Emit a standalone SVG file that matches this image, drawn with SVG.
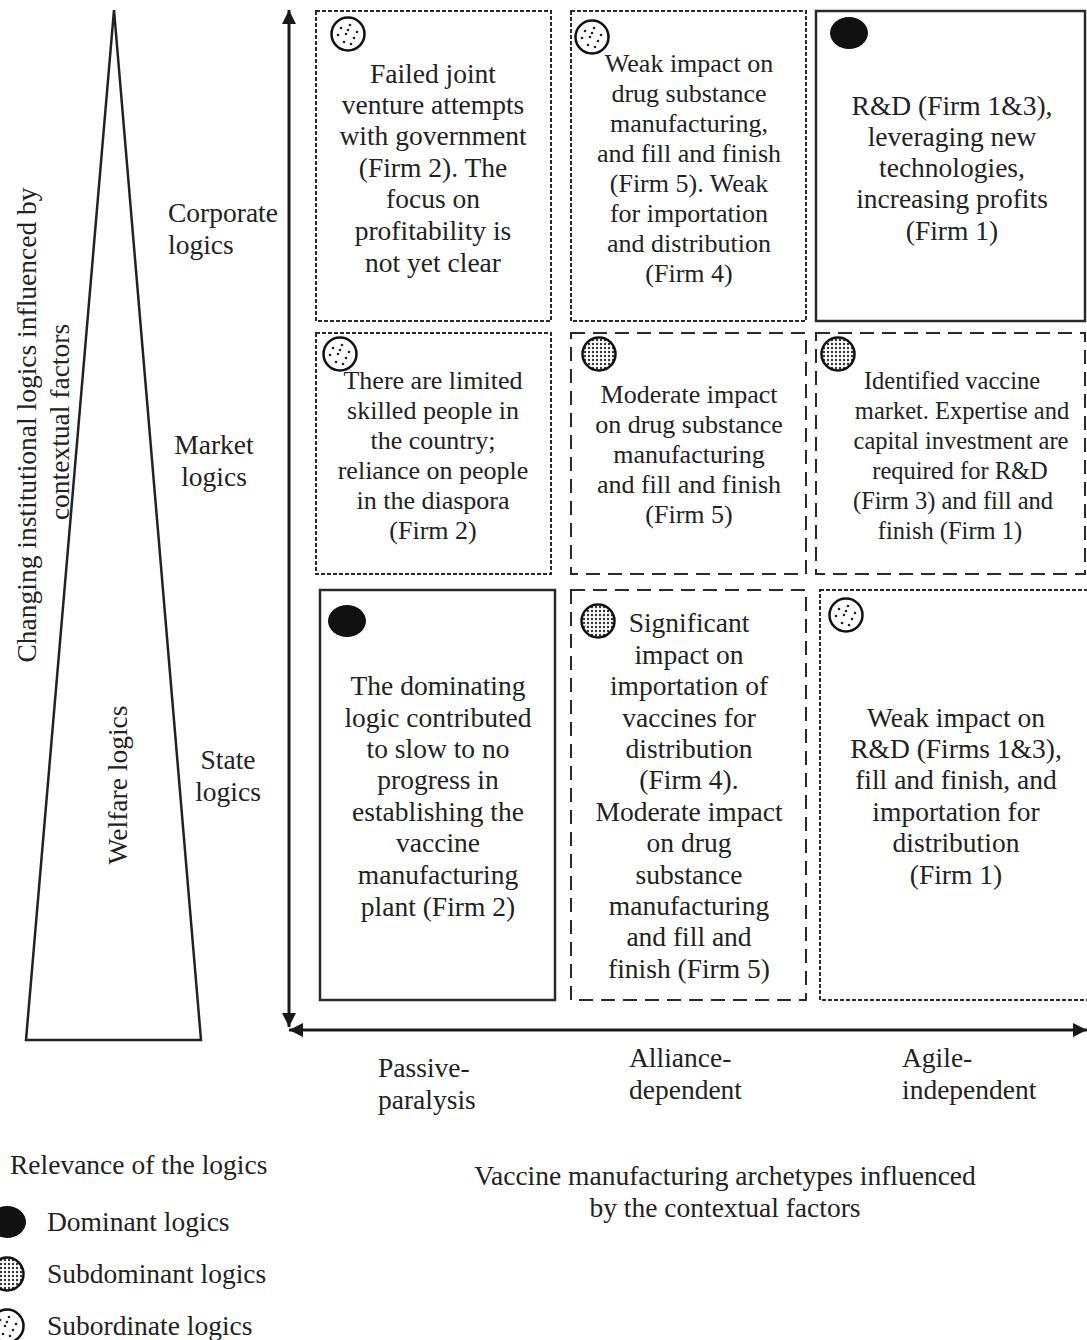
<svg xmlns="http://www.w3.org/2000/svg" xmlns:xlink="http://www.w3.org/1999/xlink" width="1087" height="1340" viewBox="0 0 1087 1340">
  <style>
    text { font-family: "Liberation Serif", "Times New Roman", serif; font-size: 27.5px; fill: #222; }
    .c { text-anchor: middle; }
    .s26 text { font-size: 26px; }
    .s25 text { font-size: 24.5px; }
    .box { fill: #fff; stroke: #2a2a2a; stroke-width: 2; }
    .solid { stroke-width: 2.5; }
    .fine { stroke-dasharray: 4 2; }
    .long { stroke-dasharray: 14 8; }
    .axis { stroke: #1a1a1a; stroke-width: 3; fill: none; }
    .tri { fill: #fff; stroke: #222; stroke-width: 2.5; }
  </style>
  <defs>
    <marker id="head" viewBox="0 0 10 10" refX="10" refY="5" markerUnits="userSpaceOnUse" markerWidth="16" markerHeight="14" orient="auto-start-reverse">
      <path d="M0,0 L10,5 L0,10 z" fill="#1a1a1a"/>
    </marker>
    <pattern id="dense" patternUnits="userSpaceOnUse" width="4" height="4">
      <rect width="4" height="4" fill="#fff"/>
      <circle cx="2" cy="2" r="1.2" fill="#333"/>
    </pattern>
    <!-- relevance symbols -->
    <g id="dominant">
      <ellipse cx="0" cy="0" rx="19" ry="16" fill="#111"/>
    </g>
    <g id="subdominant">
      <circle cx="0" cy="0" r="16.5" fill="url(#dense)" stroke="#111" stroke-width="2.5"/>
    </g>
    <g id="subordinate">
      <circle cx="0" cy="0" r="16.5" fill="#fff" stroke="#111" stroke-width="2.5"/>
      <g fill="#222">
        <circle cx="-7" cy="-6" r="1.3"/>
        <circle cx="2" cy="-9" r="1.3"/>
        <circle cx="9" cy="-2" r="1.3"/>
        <circle cx="-10" cy="1" r="1.3"/>
        <circle cx="-2" cy="0" r="1.3"/>
        <circle cx="6" cy="4" r="1.3"/>
        <circle cx="-4" cy="8" r="1.3"/>
        <circle cx="3" cy="10" r="1.3"/>
        <circle cx="0" cy="-4" r="1.3"/>
      </g>
    </g>
  </defs>

  <rect width="1087" height="1340" fill="#fff"/>

  <!-- left scale: wedge of welfare vs corporate logics -->
  <g id="wedge">
    <polygon class="tri" points="114,10 26,1040 201,1040"/>
    <text class="c" transform="translate(118,785) rotate(-90)" dy="9">Welfare logics</text>
  </g>

  <g id="y-title">
    <text class="c" transform="translate(27,425) rotate(-90)" dy="9">Changing institutional logics influenced by</text>
    <text class="c" transform="translate(60,422) rotate(-90)" dy="9">contextual factors</text>
  </g>

  <g id="row-labels">
    <text x="168" y="222">Corporate</text>
    <text x="168" y="254">logics</text>
    <text class="c" x="214" y="454">Market</text>
    <text class="c" x="214" y="486">logics</text>
    <text class="c" x="228" y="769">State</text>
    <text class="c" x="228" y="801">logics</text>
  </g>

  <!-- axes -->
  <g id="connectors">
    <line class="axis" x1="289" y1="10" x2="289" y2="1027" marker-start="url(#head)" marker-end="url(#head)"/>
    <line class="axis" x1="289" y1="1030" x2="1087" y2="1030" marker-start="url(#head)" marker-end="url(#head)"/>
  </g>

  <!-- row 1: corporate logics -->
  <g id="cell-passive-corporate">
    <rect class="box fine" x="316" y="11" width="235" height="310"/>
    <use href="#subordinate" x="348" y="34"/>
    <text class="c" x="433" y="83">Failed joint</text>
    <text class="c" x="433" y="114">venture attempts</text>
    <text class="c" x="433" y="145">with government</text>
    <text class="c" x="433" y="177">(Firm 2). The</text>
    <text class="c" x="433" y="208">focus on</text>
    <text class="c" x="433" y="240">profitability is</text>
    <text class="c" x="433" y="272">not yet clear</text>
  </g>

  <g id="cell-alliance-corporate" class="s26">
    <rect class="box fine" x="571" y="11" width="235" height="310"/>
    <use href="#subordinate" x="592" y="37"/>
    <text class="c" x="689" y="72">Weak impact on</text>
    <text class="c" x="689" y="102">drug substance</text>
    <text class="c" x="689" y="132">manufacturing,</text>
    <text class="c" x="689" y="162">and fill and finish</text>
    <text class="c" x="689" y="192">(Firm 5). Weak</text>
    <text class="c" x="689" y="222">for importation</text>
    <text class="c" x="689" y="252">and distribution</text>
    <text class="c" x="689" y="282">(Firm 4)</text>
  </g>

  <g id="cell-agile-corporate">
    <rect class="box solid" x="816" y="11" width="269" height="310"/>
    <use href="#dominant" x="849" y="33"/>
    <text class="c" x="952" y="115">R&amp;D (Firm 1&amp;3),</text>
    <text class="c" x="952" y="146">leveraging new</text>
    <text class="c" x="952" y="177">technologies,</text>
    <text class="c" x="952" y="208">increasing profits</text>
    <text class="c" x="952" y="240">(Firm 1)</text>
  </g>

  <!-- row 2: market logics -->
  <g id="cell-passive-market" class="s26">
    <rect class="box fine" x="316" y="333" width="235" height="241"/>
    <use href="#subordinate" x="340" y="354"/>
    <text class="c" x="433" y="389">There are limited</text>
    <text class="c" x="433" y="419">skilled people in</text>
    <text class="c" x="433" y="449">the country;</text>
    <text class="c" x="433" y="479">reliance on people</text>
    <text class="c" x="433" y="509">in the diaspora</text>
    <text class="c" x="433" y="539">(Firm 2)</text>
  </g>

  <g id="cell-alliance-market" class="s26">
    <rect class="box long" x="571" y="333" width="235" height="241"/>
    <use href="#subdominant" x="599" y="354"/>
    <text class="c" x="689" y="403">Moderate impact</text>
    <text class="c" x="689" y="433">on drug substance</text>
    <text class="c" x="689" y="463">manufacturing</text>
    <text class="c" x="689" y="493">and fill and finish</text>
    <text class="c" x="689" y="523">(Firm 5)</text>
  </g>

  <g id="cell-agile-market" class="s25">
    <rect class="box long" x="816" y="333" width="269" height="241"/>
    <use href="#subdominant" x="838" y="354"/>
    <text class="c" x="952" y="389">Identified vaccine</text>
    <text class="c" x="962" y="419">market. Expertise and</text>
    <text class="c" x="961" y="449">capital investment are</text>
    <text class="c" x="960" y="479">required for R&amp;D</text>
    <text class="c" x="953" y="509">(Firm 3) and fill and</text>
    <text class="c" x="950" y="539">finish (Firm 1)</text>
  </g>

  <!-- row 3: state logics -->
  <g id="cell-passive-state">
    <rect class="box solid" x="320" y="590" width="235" height="410"/>
    <use href="#dominant" x="347" y="621"/>
    <text class="c" x="438" y="695">The dominating</text>
    <text class="c" x="438" y="727">logic contributed</text>
    <text class="c" x="438" y="758">to slow to no</text>
    <text class="c" x="438" y="789">progress in</text>
    <text class="c" x="438" y="821">establishing the</text>
    <text class="c" x="438" y="852">vaccine</text>
    <text class="c" x="438" y="884">manufacturing</text>
    <text class="c" x="438" y="916">plant (Firm 2)</text>
  </g>

  <g id="cell-alliance-state">
    <rect class="box long" x="571" y="590" width="235" height="410"/>
    <use href="#subdominant" x="598" y="621"/>
    <text class="c" x="689" y="632">Significant</text>
    <text class="c" x="689" y="664">impact on</text>
    <text class="c" x="689" y="695">importation of</text>
    <text class="c" x="689" y="727">vaccines for</text>
    <text class="c" x="689" y="758">distribution</text>
    <text class="c" x="689" y="789">(Firm 4).</text>
    <text class="c" x="689" y="821">Moderate impact</text>
    <text class="c" x="689" y="852">on drug</text>
    <text class="c" x="689" y="884">substance</text>
    <text class="c" x="689" y="915">manufacturing</text>
    <text class="c" x="689" y="946">and fill and</text>
    <text class="c" x="689" y="978">finish (Firm 5)</text>
  </g>

  <g id="cell-agile-state">
    <rect class="box fine" x="820" y="590" width="269" height="410"/>
    <use href="#subordinate" x="846" y="615"/>
    <text class="c" x="956" y="727">Weak impact on</text>
    <text class="c" x="956" y="758">R&amp;D (Firms 1&amp;3),</text>
    <text class="c" x="956" y="789">fill and finish, and</text>
    <text class="c" x="956" y="821">importation for</text>
    <text class="c" x="956" y="852">distribution</text>
    <text class="c" x="956" y="884">(Firm 1)</text>
  </g>

  <!-- archetype labels along x axis -->
  <g id="column-labels">
    <text x="378" y="1077">Passive-</text>
    <text x="378" y="1109">paralysis</text>
    <text x="629" y="1067">Alliance-</text>
    <text x="629" y="1099">dependent</text>
    <text x="902" y="1067">Agile-</text>
    <text x="902" y="1099">independent</text>
  </g>

  <g id="x-title">
    <text class="c" x="725" y="1185">Vaccine manufacturing archetypes influenced</text>
    <text class="c" x="725" y="1217">by the contextual factors</text>
  </g>

  <!-- legend -->
  <g id="legend">
    <text x="10" y="1174">Relevance of the logics</text>
    <use href="#dominant" x="7" y="1222"/>
    <text x="47" y="1231">Dominant logics</text>
    <use href="#subdominant" x="7" y="1274"/>
    <text x="47" y="1283">Subdominant logics</text>
    <use href="#subordinate" x="7" y="1326"/>
    <text x="47" y="1335">Subordinate logics</text>
  </g>
</svg>
